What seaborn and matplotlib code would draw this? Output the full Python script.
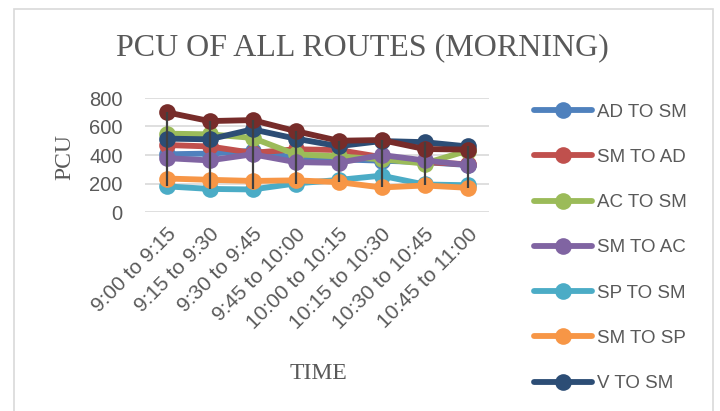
import pandas as pd
import matplotlib
matplotlib.use("Agg")
import matplotlib.pyplot as plt
import matplotlib.patches as mpatches
import seaborn as sns

# time slots (x axis)
time_slots = ['9:00 to 9:15', '9:15 to 9:30', '9:30 to 9:45', '9:45 to 10:00',
              '10:00 to 10:15', '10:15 to 10:30', '10:30 to 10:45', '10:45 to 11:00']

# PCU per route
ad_to_sm = [405, 410, 430, 380, 370, 360, 350, 330]
sm_to_ad = [470, 460, 415, 440, 435, 385, 350, 335]
ac_to_sm = [550, 545, 520, 405, 390, 370, 340, 430]
sm_to_ac = [378, 362, 405, 350, 345, 400, 362, 330]
sp_to_sm = [180, 162, 158, 200, 225, 255, 193, 188]
sm_to_sp = [235, 226, 218, 222, 210, 172, 186, 170]
v_to_sm = [515, 510, 580, 515, 462, 498, 490, 460]
sm_to_v = [700, 638, 645, 568, 500, 505, 442, 438]

routes = ['AD TO SM', 'SM TO AD', 'AC TO SM', 'SM TO AC',
          'SP TO SM', 'SM TO SP', 'V TO SM', 'SM TO V']
values = [ad_to_sm, sm_to_ad, ac_to_sm, sm_to_ac, sp_to_sm, sm_to_sp, v_to_sm, sm_to_v]
colors = ['#4F81BD', '#C0504D', '#9BBB59', '#8064A2',
          '#4BACC6', '#F79646', '#2C4D75', '#772C2A']

rows = []
for route, vals in zip(routes, values):
    for i, v in enumerate(vals):
        rows.append({'slot': i, 'route': route, 'pcu': v})
df = pd.DataFrame(rows)

sns.set_style("white")
plt.rcParams['font.family'] = ['Liberation Sans', 'DejaVu Sans']
grey = '#595959'

fig = plt.figure(figsize=(7.2, 4.11), dpi=100)
fig.patches.append(mpatches.Rectangle((14 / 720, -0.05), 699 / 720, 1 - 9 / 411 + 0.05,
                                      transform=fig.transFigure, fill=False,
                                      edgecolor='#D9D9D9', linewidth=1.2))

ax = fig.add_axes([145 / 720, 1 - 212 / 411, 344 / 720, 114 / 411])

sns.lineplot(data=df, x='slot', y='pcu', hue='route', hue_order=routes,
             palette=colors, marker='o', markersize=12, linewidth=4.2,
             markeredgewidth=0, ax=ax, legend=True)

# high-low lines
pcu_max = df.groupby('slot')['pcu'].max()
pcu_min = df.groupby('slot')['pcu'].min()
ax.vlines(pcu_max.index, pcu_min.values, pcu_max.values, color='#404040',
          linewidth=1.6, zorder=10)

ax.set_xlim(-0.5, len(time_slots) - 0.5)
ax.set_ylim(0, 800)
ax.set_yticks([0, 200, 400, 600, 800])
ax.set_xticks(range(len(time_slots)))
ax.set_xticklabels(time_slots, rotation=45, ha='right', rotation_mode='anchor')
ax.tick_params(axis='both', length=0, colors=grey)
ax.tick_params(axis='y', labelsize=14.5, pad=16)
ax.tick_params(axis='x', labelsize=15, pad=9)
ax.yaxis.grid(True, color='#D9D9D9', linewidth=1.2)
ax.set_axisbelow(True)
for s in ax.spines.values():
    s.set_visible(False)
ax.set_xlabel('')
ax.set_ylabel('')

fig.text(362 / 720, 1 - 48 / 411, 'PCU OF ALL ROUTES (MORNING)', ha='center', va='center',
         fontsize=23, color=grey, family='Liberation Serif')
fig.text(65 / 720, 1 - 157 / 411, 'PCU', ha='center', va='center', rotation=90,
         fontsize=17, color=grey, family='Liberation Serif')
fig.text(318 / 720, 1 - 373 / 411, 'TIME', ha='center', va='center',
         fontsize=17, color=grey, family='Liberation Serif')

handles, labels = ax.get_legend_handles_labels()
ax.get_legend().remove()
leg = fig.legend(handles[:7], labels[:7], loc='upper left',
                 bbox_to_anchor=(526 / 720, 1 - 96 / 411), frameon=False,
                 fontsize=13.5, labelspacing=1.5, handlelength=3.1, handletextpad=0.3,
                 borderaxespad=0)
for t in leg.get_texts():
    t.set_color(grey)

fig.savefig('out.png', dpi=100)
